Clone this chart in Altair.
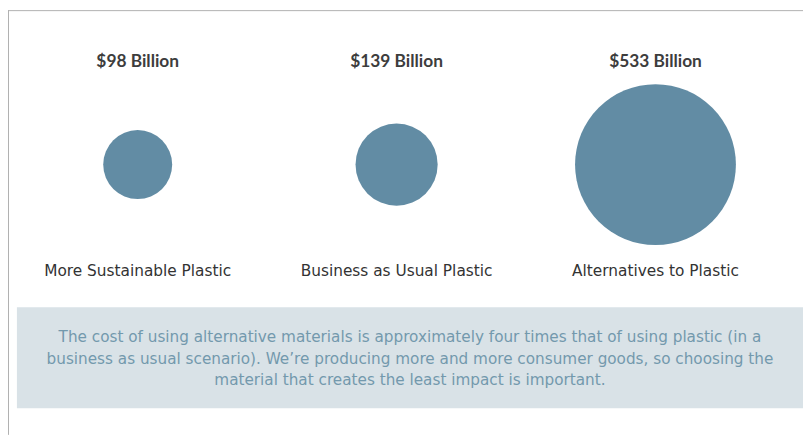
import altair as alt
import pandas as pd

categories = ["More Sustainable Plastic", "Business as Usual Plastic", "Alternatives to Plastic"]
values = [98, 139, 533]
labels = ["$98 Billion", "$139 Billion", "$533 Billion"]
note_lines = [
    "The cost of using alternative materials is approximately four times that of using plastic (in a",
    "business as usual scenario). We\u2019re producing more and more consumer goods, so choosing the",
    "material that creates the least impact is important.",
]

df = pd.DataFrame({"category": categories, "value": values, "label": labels})
one = pd.DataFrame({"k": [0]})

CIRCLE = "#628ca4"
BOX = "#d9e2e7"
NOTE = "#7399ad"

x_enc = alt.X("category:N", sort=categories,
              scale=alt.Scale(type="point", range=[131, 654], padding=0), axis=None)

box = alt.Chart(one).mark_rect(color=BOX).encode(
    x=alt.value(9), x2=alt.value(803), y=alt.value(300), y2=alt.value(402))

top_rule = alt.Chart(one).mark_rule(color="#b0b0b0", strokeWidth=1).encode(
    x=alt.value(0), x2=alt.value(803), y=alt.value(0.5))
left_rule = alt.Chart(one).mark_rule(color="#b0b0b0", strokeWidth=1).encode(
    x=alt.value(0.5), y=alt.value(0), y2=alt.value(429))

circles = alt.Chart(df).mark_circle(color=CIRCLE, opacity=1).encode(
    x=x_enc,
    y=alt.value(156),
    size=alt.Size("value:Q", scale=alt.Scale(domain=[0, 533], range=[0, 26400]), legend=None),
)

top_text = alt.Chart(df).mark_text(
    font="Lato", fontWeight="bold", fontSize=17.5, color="#3d3d3d", baseline="middle"
).encode(x=x_enc, y=alt.value(52), text="label:N")

bottom_text = alt.Chart(df).mark_text(
    font="DejaVu Sans", fontSize=15.5, color="#333333", baseline="middle"
).encode(x=x_enc, y=alt.value(263.5), text="category:N")

note = alt.Chart(one).mark_text(
    font="DejaVu Sans", fontSize=15.4, color=NOTE, baseline="middle", lineHeight=22, align="center"
).encode(x=alt.value(406), y=alt.value(330), text=alt.value(note_lines))

chart = alt.layer(box, top_rule, left_rule, circles, top_text, bottom_text, note).properties(
    width=803, height=429, autosize=alt.AutoSizeParams(type="none"), padding=0,
    background="white"
).configure_view(stroke=None)

chart.save("out.html", embed_options={"renderer": "svg", "actions": False})
